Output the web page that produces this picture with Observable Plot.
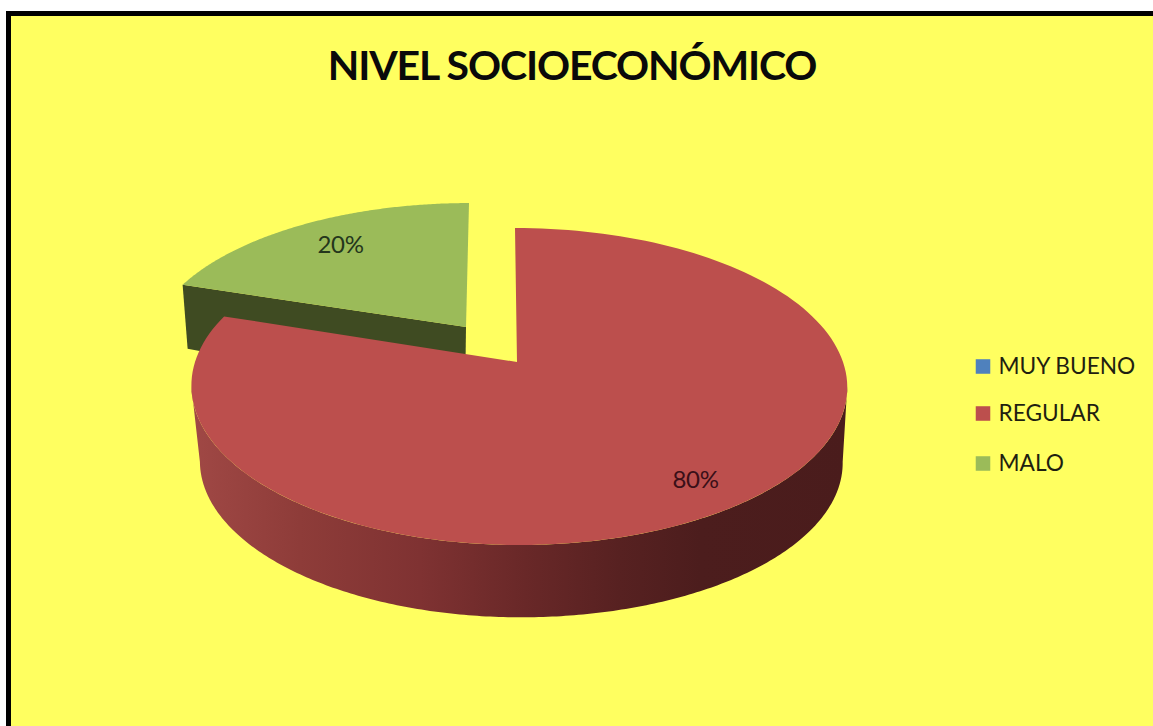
<!DOCTYPE html>
<html><head><meta charset="utf-8">
<script src="https://cdn.jsdelivr.net/npm/d3@7"></script>
<script src="https://cdn.jsdelivr.net/npm/@observablehq/plot@0.6"></script>
<style>
html,body{margin:0;padding:0;background:#fff;overflow:hidden}
svg{display:block}
.title text{letter-spacing:-1.15px}
.pct text{letter-spacing:-0.3px}
</style></head><body><div id="chart"></div>
<script>
const categories = ["MUY BUENO", "REGULAR", "MALO"];
const values = [0, 80, 20];
const labels = ["", "80%", "20%"];
const colors = ["#4F81BD", "#BC4F4D", "#9BBB59"];
const chartTitle = "NIVEL SOCIOECONÓMICO";

const W = 1153, H = 726, FONT = "Lato, Carlito, sans-serif", BG = "#FFFF60";
const arcs = d3.pie().sort(null).startAngle(0).endAngle(2 * Math.PI)(values);

// Perspective mapping of the tilted pie disc
const k = 0.1546, A = 154.7;
function disc(t, o) {
  const u = Math.sin(t), v = Math.cos(t), w = 1 + k * v;
  const B = u < 0 ? o.bl : o.br;
  return [o.x0 + (B * o.sx * u) / w + o.skew * v, o.y0 - (A * o.sy * v) / w];
}
const redTop = {x0: 517, y0: 362, bl: 322, br: 326, sx: 1, sy: 1, skew: -2};
const redLow = {x0: 519, y0: 438, bl: 322, br: 326, sx: 0.98, sy: 0.98, skew: -2};
const greenTop = {x0: 466, y0: 327, bl: 318, br: 318, sx: 0.985, sy: 0.925, skew: 3};

function fan(arc, o, color) {
  const n = 160;
  return d3.range(n + 1).map(i => {
    const p = disc(arc.startAngle + (arc.endAngle - arc.startAngle) * i / n, o);
    return {xa: o.x0, ya: o.y0, xb: p[0], yb: p[1], color, z: color};
  });
}
const red = arcs[1], green = arcs[2];
const faces = fan(green, greenTop, colors[2]);
const redFace = fan(red, redTop, colors[1]);

// shaded rim of the big slice, spanning the disc's left and right extremes
const rimStops = [[192, "#A04845"], [300, "#8E3C39"], [420, "#7F3232"], [525, "#692828"], [620, "#572121"], [700, "#4C1D1D"], [850, "#4A1C1C"]];
const t0 = Math.acos(-k), t1 = 2 * Math.PI - t0, N = 240;
const rim = d3.range(N + 1).map(i => {
  const a = t0 + (t1 - t0) * i / N, p = disc(a, redTop), q = disc(a, redLow);
  return {xa: p[0], ya: p[1], xb: q[0], yb: q[1]};
});
const gradient = () => {
  const defs = d3.create("svg:defs");
  const g = defs.append("linearGradient").attr("id", "rimShade").attr("gradientUnits", "userSpaceOnUse")
    .attr("x1", 192).attr("x2", 850).attr("y1", 0).attr("y2", 0);
  rimStops.forEach(([x, c]) => g.append("stop").attr("offset", (x - 192) / (850 - 192)).attr("stop-color", c));
  return defs.node();
};
// dark cut wall of the small slice
const corner = disc(green.startAngle, greenTop);
const wall = [
  {xa: corner[0], ya: corner[1], xb: corner[0] + 5, yb: corner[1] + 64, color: "#3F4B22", z: "w"},
  {xa: greenTop.x0, ya: greenTop.y0, xb: greenTop.x0 - 1, yb: greenTop.y0 + 73, color: "#3F4B22", z: "w"}
];

const area = (d) => Plot.area(d, {x1: "xa", y1: "ya", x2: "xb", y2: "yb", z: "z", fill: "color"});

const legendY = [366, 413, 463];
const legend = categories.map((name, i) => ({name, color: colors[i], y: legendY[i]}));
const pct = [{t: labels[2], x: 340, y: 245, c: "#24361C"}, {t: labels[1], x: 695, y: 480, c: "#3A0F18"}];

const plot = Plot.plot({
  width: W, height: H, margin: 0,
  x: {domain: [0, W], range: [0, W], axis: null},
  y: {domain: [0, H], range: [0, H], axis: null},
  color: {type: "identity"},
  style: {background: "#fff", fontFamily: FONT},
  marks: [
    gradient,
    Plot.rect([0], {x1: 6, x2: W, y1: 11, y2: H, fill: "#000"}),
    Plot.rect([0], {x1: 11, x2: W, y1: 16, y2: H, fill: BG}),
    area(wall),
    area(faces),
    Plot.area(rim, {x1: "xa", y1: "ya", x2: "xb", y2: "yb", fill: "url(#rimShade)"}),
    area(redFace),
    Plot.text(pct, {x: "x", y: "y", text: "t", fill: "c", fontSize: 24, className: "pct", fontFamily: FONT}),
    Plot.dot(legend, {x: () => 982.5, y: "y", symbol: "square", r: 8.2, fill: "color"}),
    Plot.text(legend, {x: () => 998, y: "y", text: "name", textAnchor: "start", fill: "#1f1f10", fontSize: 22.7, fontFamily: FONT}),
    Plot.text([chartTitle], {x: () => 571.5, y: () => 66, text: d => d, fill: "#0a0a0a", fontSize: 41, fontWeight: 700, fontFamily: FONT, className: "title"})
  ]
});
document.getElementById("chart").append(plot);
</script></body></html>
